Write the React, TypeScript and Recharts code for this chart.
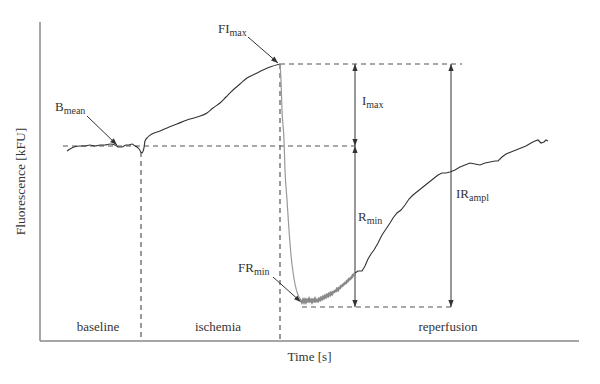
import { ComposedChart, Line, XAxis, YAxis, ReferenceLine, ReferenceDot } from 'recharts'

// time in s, fluorescence in kFU (arbitrary units, schematic curve)
const baseline = [
  { t: 27, f: 190 }, { t: 30, f: 192 }, { t: 34, f: 194 }, { t: 40, f: 195 }, { t: 45, f: 195 },
  { t: 50, f: 196 }, { t: 55, f: 195 }, { t: 60, f: 196 }, { t: 65, f: 196 }, { t: 70, f: 197 },
  { t: 75, f: 196 }, { t: 79, f: 194 }, { t: 82, f: 194 }, { t: 86, f: 196 }, { t: 89, f: 196 },
  { t: 92, f: 197 }, { t: 95, f: 195 }, { t: 97, f: 194 }, { t: 99, f: 192 }, { t: 101, f: 189 },
  { t: 102, f: 188 }, { t: 104, f: 193 },
]

const ischemia = [
  { t: 104, f: 193 }, { t: 105, f: 200 }, { t: 108, f: 204 }, { t: 112, f: 207 }, { t: 120, f: 210 },
  { t: 127, f: 213 }, { t: 137, f: 217 }, { t: 147, f: 221 }, { t: 157, f: 224 }, { t: 167, f: 228 },
  { t: 173, f: 233 }, { t: 180, f: 238 }, { t: 186, f: 244 }, { t: 193, f: 251 }, { t: 200, f: 257 },
  { t: 207, f: 263 }, { t: 215, f: 267 }, { t: 223, f: 271 }, { t: 230, f: 274 }, { t: 240, f: 277 },
]

const drop = [
  { t: 240, f: 277 }, { t: 241, f: 261 }, { t: 242, f: 231 }, { t: 244, f: 201 }, { t: 245, f: 171 },
  { t: 247, f: 141 }, { t: 249, f: 111 }, { t: 251, f: 86 }, { t: 253, f: 69 }, { t: 255, f: 57 },
  { t: 258, f: 46 }, { t: 261, f: 41 },
]

const trough = [
  { t: 261, f: 41 }, { t: 262, f: 39 }, { t: 263, f: 41 }, { t: 264, f: 39 }, { t: 265, f: 41 },
  { t: 266, f: 39 }, { t: 267, f: 41 }, { t: 268, f: 40 }, { t: 269, f: 42 }, { t: 270, f: 40 },
  { t: 271, f: 41 }, { t: 272, f: 39 }, { t: 273, f: 41 }, { t: 274, f: 40 }, { t: 275, f: 42 },
  { t: 276, f: 40 }, { t: 277, f: 41 }, { t: 278, f: 40 }, { t: 279, f: 42 }, { t: 280, f: 41 },
  { t: 281, f: 43 }, { t: 282, f: 42 }, { t: 283, f: 44 }, { t: 284, f: 43 }, { t: 285, f: 45 },
  { t: 286, f: 44 }, { t: 287, f: 46 }, { t: 288, f: 45 }, { t: 289, f: 47 }, { t: 290, f: 46 },
  { t: 291, f: 48 }, { t: 292, f: 47 }, { t: 293, f: 49 }, { t: 294, f: 49 }, { t: 295, f: 50 },
  { t: 296, f: 50 }, { t: 297, f: 52 }, { t: 298, f: 51 }, { t: 299, f: 53 }, { t: 300, f: 53 },
  { t: 301, f: 55 }, { t: 302, f: 55 }, { t: 303, f: 56 }, { t: 304, f: 57 }, { t: 305, f: 58 },
  { t: 306, f: 58 }, { t: 307, f: 60 }, { t: 308, f: 60 }, { t: 309, f: 62 }, { t: 310, f: 62 },
  { t: 311, f: 63 }, { t: 312, f: 64 }, { t: 313, f: 66 }, { t: 314, f: 66 }, { t: 315, f: 68 },
]

const recovery = [
  { t: 315, f: 68 }, { t: 318, f: 70 }, { t: 322, f: 70 }, { t: 325, f: 75 }, { t: 328, f: 82 },
  { t: 331, f: 87 }, { t: 334, f: 91 }, { t: 338, f: 98 }, { t: 342, f: 106 }, { t: 346, f: 112 },
  { t: 350, f: 118 }, { t: 353, f: 123 }, { t: 357, f: 128 }, { t: 361, f: 131 }, { t: 365, f: 136 },
  { t: 369, f: 142 }, { t: 373, f: 146 }, { t: 378, f: 150 }, { t: 383, f: 154 }, { t: 388, f: 158 },
  { t: 393, f: 162 }, { t: 398, f: 166 }, { t: 402, f: 168 }, { t: 406, f: 168 }, { t: 410, f: 169 },
  { t: 415, f: 171 }, { t: 420, f: 174 }, { t: 425, f: 176 }, { t: 430, f: 178 }, { t: 435, f: 177 },
  { t: 440, f: 176 }, { t: 445, f: 178 }, { t: 450, f: 179 }, { t: 455, f: 180 }, { t: 458, f: 180 },
  { t: 462, f: 184 }, { t: 466, f: 187 }, { t: 471, f: 189 }, { t: 476, f: 191 }, { t: 481, f: 193 },
  { t: 486, f: 195 }, { t: 491, f: 198 }, { t: 495, f: 200 }, { t: 498, f: 201 }, { t: 501, f: 198 },
  { t: 504, f: 199 }, { t: 506, f: 201 }, { t: 508, f: 200 },
]

// key levels / times
const FI_MAX = 277
const B_MEAN = 195
const FR_MIN = 34
const T_ISCH = 101
const T_REPERF = 240
const T_ARROW1 = 315
const T_ARROW2 = 411

const phases = [
  { name: 'baseline', t: 58 },
  { name: 'ischemia', t: 178 },
  { name: 'reperfusion', t: 408 },
]

const annotations = [
  { main: 'B', sub: 'mean', t: 15, f: 230 },
  { main: 'FI', sub: 'max', t: 178, f: 308 },
  { main: 'I', sub: 'max', t: 322, f: 236 },
  { main: 'R', sub: 'min', t: 318, f: 120 },
  { main: 'IR', sub: 'ampl', t: 416, f: 143 },
  { main: 'FR', sub: 'min', t: 198, f: 69 },
]

const pointers = [
  { from: { x: 47, y: 225 }, to: { x: 77, y: 196 } },
  { from: { x: 208, y: 304 }, to: { x: 238, y: 278 } },
  { from: { x: 233, y: 64 }, to: { x: 261, y: 39 } },
]

const FONT = 'Liberation Serif, Times New Roman, Times, serif'
const INK = '#333'
const DASH = '5 4'

const head = (x: number, y: number, a: number) => {
  const L = 7
  const W = 2.6
  const bx = x - L * Math.cos(a)
  const by = y - L * Math.sin(a)
  const px = W * Math.sin(a)
  const py = -W * Math.cos(a)
  return <polygon points={`${x},${y} ${bx + px},${by + py} ${bx - px},${by - py}`} fill={INK} />
}

const arrow = (both: boolean) => (p: any) => {
  const { x1, y1, x2, y2 } = p
  const a = Math.atan2(y2 - y1, x2 - x1)
  return (
    <g>
      <line x1={x1} y1={y1} x2={x2} y2={y2} stroke={INK} strokeWidth={1} />
      {both && head(x1, y1, a + Math.PI)}
      {head(x2, y2, a)}
    </g>
  )
}

const subText = (main: string, sub: string) => (p: any) => (
  <text x={p.cx} y={p.cy} style={{ fontFamily: FONT }} fontSize={13} fill={INK}>
    {main}
    <tspan fontSize={10} dy={3}>{sub}</tspan>
  </text>
)

const phaseText = (name: string) => (p: any) => (
  <text x={p.cx} y={p.cy} style={{ fontFamily: FONT }} fontSize={13} fill={INK} textAnchor="middle">
    {name}
  </text>
)

export default function App() {
  return (
    <div style={{ position: 'absolute', left: 0, top: 0, background: '#fff', fontFamily: FONT }}>
      <ComposedChart
        width={600}
        height={384}
        margin={{ top: 22, right: 21, bottom: 13, left: 0 }}
        style={{ fontFamily: FONT }}
      >
        <XAxis
          type="number"
          dataKey="t"
          domain={[0, 539]}
          allowDataOverflow
          tick={false}
          tickLine={false}
          height={30}
          axisLine={{ stroke: '#888', strokeWidth: 1.5 }}
          label={{ value: 'Time [s]', position: 'insideBottom', offset: 10, fill: INK, fontSize: 13, style: { fontFamily: FONT } }}
        />
        <YAxis
          type="number"
          domain={[0, 319]}
          allowDataOverflow
          tick={false}
          tickLine={false}
          width={40}
          axisLine={{ stroke: '#888', strokeWidth: 1.5 }}
          label={{ value: 'Fluorescence [kFU]', angle: -90, position: 'center', fill: INK, fontSize: 13.5, style: { fontFamily: FONT } }}
        />

        {/* reference levels */}
        <ReferenceLine segment={[{ x: 23, y: B_MEAN }, { x: T_ARROW1, y: B_MEAN }]} stroke="#555" strokeDasharray={DASH} strokeWidth={1.2} />
        <ReferenceLine segment={[{ x: T_REPERF, y: FI_MAX }, { x: 422, y: FI_MAX }]} stroke="#555" strokeDasharray={DASH} strokeWidth={1.2} />
        <ReferenceLine segment={[{ x: 262, y: FR_MIN }, { x: 412, y: FR_MIN }]} stroke="#555" strokeDasharray={DASH} strokeWidth={1.2} />
        <ReferenceLine segment={[{ x: T_ISCH, y: 189 }, { x: T_ISCH, y: 0 }]} stroke="#555" strokeDasharray={DASH} strokeWidth={1.2} />
        <ReferenceLine segment={[{ x: T_REPERF, y: FI_MAX }, { x: T_REPERF, y: 0 }]} stroke="#555" strokeDasharray={DASH} strokeWidth={1.2} />

        {/* amplitude arrows */}
        <ReferenceLine segment={[{ x: T_ARROW1, y: FI_MAX }, { x: T_ARROW1, y: B_MEAN }]} shape={arrow(true)} />
        <ReferenceLine segment={[{ x: T_ARROW1, y: B_MEAN }, { x: T_ARROW1, y: FR_MIN }]} shape={arrow(true)} />
        <ReferenceLine segment={[{ x: T_ARROW2, y: FI_MAX }, { x: T_ARROW2, y: FR_MIN }]} shape={arrow(true)} />
        {pointers.map((p, i) => (
          <ReferenceLine key={`ptr${i}`} segment={[p.from, p.to]} shape={arrow(false)} />
        ))}

        <Line data={baseline} dataKey="f" type="monotone" stroke={INK} strokeWidth={1.1} dot={false} isAnimationActive={false} />
        <Line data={ischemia} dataKey="f" type="monotone" stroke={INK} strokeWidth={1.1} dot={false} isAnimationActive={false} />
        <Line data={drop} dataKey="f" type="monotone" stroke="#999" strokeWidth={1.2} dot={false} isAnimationActive={false} />
        <Line data={trough} dataKey="f" type="linear" stroke="#8a8a8a" strokeWidth={2.6} dot={false} isAnimationActive={false} />
        <Line data={recovery} dataKey="f" type="linear" stroke={INK} strokeWidth={1.1} dot={false} isAnimationActive={false} />

        {annotations.map((a) => (
          <ReferenceDot key={a.main + a.sub + a.t} x={a.t} y={a.f} shape={subText(a.main, a.sub)} />
        ))}
        {phases.map((p) => (
          <ReferenceDot key={p.name} x={p.t} y={10} shape={phaseText(p.name)} />
        ))}
      </ComposedChart>
    </div>
  )
}
